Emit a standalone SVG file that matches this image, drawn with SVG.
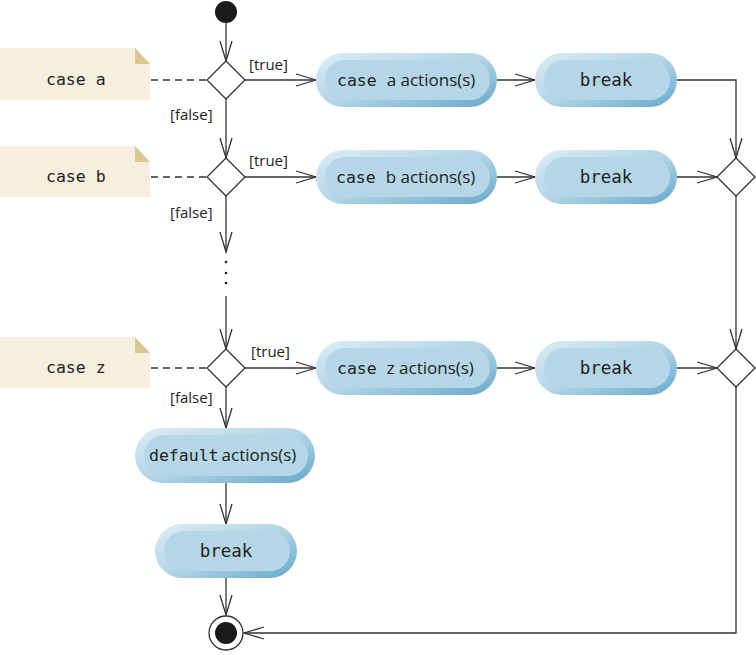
<svg xmlns="http://www.w3.org/2000/svg" width="756" height="655" viewBox="0 0 756 655">
<defs>
<linearGradient id="pillg" x1="0" y1="0" x2="1" y2="1">
<stop offset="0" stop-color="#dcedf6"/>
<stop offset="0.5" stop-color="#b3d5e6"/>
<stop offset="1" stop-color="#64a9cb"/>
</linearGradient>
<marker id="arr" markerUnits="userSpaceOnUse" markerWidth="24" markerHeight="16" refX="21" refY="7" orient="auto">
<path d="M1,1 L21,7 L1,13" fill="none" stroke="#333" stroke-width="1.3"/>
</marker>
</defs>
<style>
.c{fill:none;stroke:#333;stroke-width:1.3}
.d{fill:none;stroke:#333;stroke-width:1.3;stroke-dasharray:7,5}
.dia{fill:#fff;stroke:#333;stroke-width:1.3}
.note{fill:#f6efdf}
.fold{fill:#dbc792}
.outer{fill:url(#pillg)}
.inner{fill:#b4d6e7}
.mono{font-family:"DejaVu Sans Mono","Liberation Mono",monospace;font-size:16.5px;fill:#222}
.brk{font-family:"DejaVu Sans Mono","Liberation Mono",monospace;font-size:17.5px;fill:#222}
.sans{font-family:"Open Sans","Noto Sans",sans-serif;font-size:17px;fill:#222}
.lbl{font-family:"Open Sans","Noto Sans",sans-serif;font-size:15px;fill:#222}
</style>

<g id="connectors">
<line class="c" x1="226" y1="23" x2="226" y2="61" marker-end="url(#arr)"/>
<line class="c" x1="245" y1="80" x2="316" y2="80" marker-end="url(#arr)"/>
<line class="c" x1="497" y1="80" x2="535" y2="80" marker-end="url(#arr)"/>
<polyline class="c" points="677,80 736,80 736,158" marker-end="url(#arr)"/>
<line class="c" x1="226" y1="99" x2="226" y2="158" marker-end="url(#arr)"/>
<line class="c" x1="245" y1="177" x2="316" y2="177" marker-end="url(#arr)"/>
<line class="c" x1="497" y1="177" x2="535" y2="177" marker-end="url(#arr)"/>
<line class="c" x1="677" y1="177" x2="717" y2="177" marker-end="url(#arr)"/>
<line class="c" x1="226" y1="196" x2="226" y2="252" marker-end="url(#arr)"/>
<line class="c" x1="226" y1="296" x2="226" y2="349" marker-end="url(#arr)"/>
<line class="c" x1="245" y1="368" x2="316" y2="368" marker-end="url(#arr)"/>
<line class="c" x1="497" y1="368" x2="535" y2="368" marker-end="url(#arr)"/>
<line class="c" x1="677" y1="368" x2="717" y2="368" marker-end="url(#arr)"/>
<line class="c" x1="736" y1="196" x2="736" y2="349" marker-end="url(#arr)"/>
<polyline class="c" points="736,387 736,633 244,633" marker-end="url(#arr)"/>
<line class="c" x1="226" y1="387" x2="226" y2="428" marker-end="url(#arr)"/>
<line class="c" x1="226" y1="483" x2="226" y2="524" marker-end="url(#arr)"/>
<line class="c" x1="226" y1="578" x2="226" y2="615" marker-end="url(#arr)"/>
<line class="d" x1="151" y1="80" x2="207" y2="80"/>
<line class="d" x1="151" y1="177" x2="207" y2="177"/>
<line class="d" x1="151" y1="368" x2="207" y2="368"/>
<circle cx="226" cy="262" r="1.3" fill="#222"/>
<circle cx="226" cy="273" r="1.3" fill="#222"/>
<circle cx="226" cy="283" r="1.3" fill="#222"/>
<text class="lbl" x="249" y="70">[true]</text>
<text class="lbl" x="170" y="120">[false]</text>
<text class="lbl" x="249" y="166">[true]</text>
<text class="lbl" x="170" y="218">[false]</text>
<text class="lbl" x="251" y="357">[true]</text>
<text class="lbl" x="170" y="403">[false]</text>
</g>

<g id="start"><circle cx="226" cy="12" r="11" fill="#1a1a1a"/></g>

<g id="noteA">
<polygon class="note" points="0,48 135,48 150,64 150,100 0,100"/>
<polygon class="fold" points="135,48 150,64 135,64"/>
<text class="mono" x="46" y="85">case a</text>
</g>
<g id="noteB">
<polygon class="note" points="0,146 135,146 150,162 150,197 0,197"/>
<polygon class="fold" points="135,146 150,162 135,162"/>
<text class="mono" x="46" y="177" dy="5">case b</text>
</g>
<g id="noteZ">
<polygon class="note" points="0,337 135,337 150,353 150,388 0,388"/>
<polygon class="fold" points="135,337 150,353 135,353"/>
<text class="mono" x="46" y="373">case z</text>
</g>

<g id="decA"><polygon class="dia" points="226,61 245,80 226,99 207,80"/></g>
<g id="decB"><polygon class="dia" points="226,158 245,177 226,196 207,177"/></g>
<g id="decZ"><polygon class="dia" points="226,349 245,368 226,387 207,368"/></g>
<g id="mergeB"><polygon class="dia" points="736,158 755,177 736,196 717,177"/></g>
<g id="mergeZ"><polygon class="dia" points="736,349 755,368 736,387 717,368"/></g>

<g id="actA">
<rect class="outer" x="316" y="53" width="181" height="54" rx="27"/>
<rect class="inner" x="325" y="60" width="165" height="40" rx="20"/>
<text x="337" y="86"><tspan class="mono">case </tspan><tspan class="sans">a actions(s)</tspan></text>
</g>
<g id="breakA">
<rect class="outer" x="535" y="53" width="142" height="54" rx="27"/>
<rect class="inner" x="544" y="60" width="126" height="40" rx="20"/>
<text class="brk" x="606" y="86" text-anchor="middle">break</text>
</g>
<g id="actB">
<rect class="outer" x="316" y="150" width="181" height="54" rx="27"/>
<rect class="inner" x="325" y="157" width="165" height="40" rx="20"/>
<text x="336" y="183"><tspan class="mono">case </tspan><tspan class="sans">b actions(s)</tspan></text>
</g>
<g id="breakB">
<rect class="outer" x="535" y="150" width="142" height="54" rx="27"/>
<rect class="inner" x="544" y="157" width="126" height="40" rx="20"/>
<text class="brk" x="606" y="183" text-anchor="middle">break</text>
</g>
<g id="actZ">
<rect class="outer" x="316" y="341" width="181" height="54" rx="27"/>
<rect class="inner" x="325" y="348" width="165" height="40" rx="20"/>
<text x="337" y="374"><tspan class="mono">case </tspan><tspan class="sans">z actions(s)</tspan></text>
</g>
<g id="breakZ">
<rect class="outer" x="535" y="341" width="142" height="54" rx="27"/>
<rect class="inner" x="544" y="348" width="126" height="40" rx="20"/>
<text class="brk" x="606" y="374" text-anchor="middle">break</text>
</g>
<g id="actDefault">
<rect class="outer" x="135" y="428" width="180" height="55" rx="27.5"/>
<rect class="inner" x="144" y="435" width="164" height="41" rx="20.5"/>
<text x="149" y="461"><tspan class="mono">default</tspan><tspan class="sans" dx="3">actions(s)</tspan></text>
</g>
<g id="breakDefault">
<rect class="outer" x="155" y="524" width="142" height="54" rx="27"/>
<rect class="inner" x="164" y="531" width="126" height="40" rx="20"/>
<text class="brk" x="226" y="557" text-anchor="middle">break</text>
</g>

<g id="end">
<circle cx="226" cy="633" r="17" fill="#fff" stroke="#333" stroke-width="1.3"/>
<circle cx="226" cy="633" r="11" fill="#1a1a1a"/>
</g>
</svg>
